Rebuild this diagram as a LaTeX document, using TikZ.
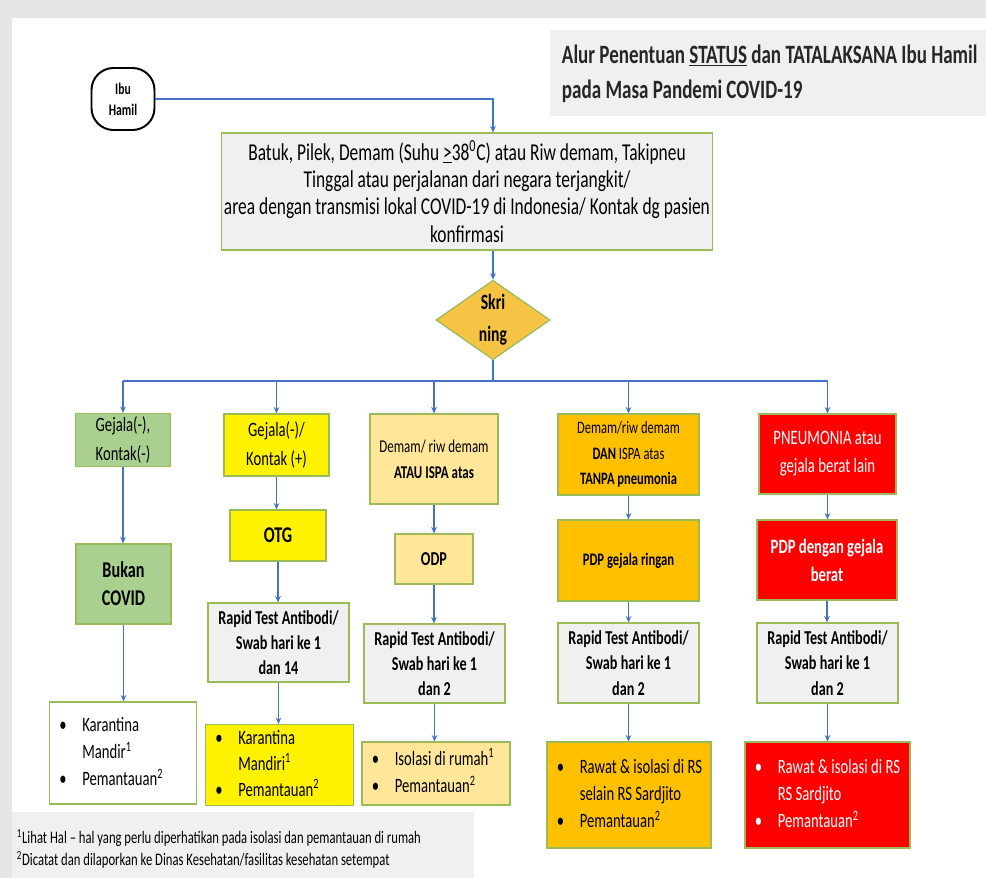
\documentclass[tikz,border=0pt]{standalone}
\usepackage{fontspec}
\setmainfont{Carlito}[FakeStretch=0.72]
\usepackage{xcolor}
\usepackage{tikz}
\usetikzlibrary{shapes.geometric,arrows.meta}

\definecolor{lineblue}{HTML}{4472C4}
\definecolor{boxgreen}{HTML}{9BBB59}
\definecolor{leafgreen}{HTML}{A9D08E}
\definecolor{panelgray}{HTML}{F0F0F0}
\definecolor{framegray}{HTML}{E6E6E6}
\definecolor{lightorange}{HTML}{FFE699}
\definecolor{darkorange}{HTML}{FFC000}
\definecolor{diamondgold}{HTML}{F6C445}

% bullet list, set flush left in a box of given width
\newcommand{\blist}[2]{\makebox[#1][l]{\begin{tabular}{@{}l@{\hspace{11pt}}l@{}}#2\end{tabular}}}

\begin{document}
\begin{tikzpicture}[x=0.025cm, y=-0.025cm,
    sz/.style 2 args={minimum width=#1*0.025cm, minimum height=#2*0.025cm},
    box/.style={draw=boxgreen, line width=0.9pt, inner sep=2pt, align=center, font=\fontsize{14}{20}\selectfont},
    graybox/.style={box, fill=panelgray, font=\bfseries\fontsize{14}{18}\selectfont},
    listbox/.style={box, inner xsep=0.25cm, font=\fontsize{14.5}{19.5}\selectfont},
    arr/.style={draw=lineblue, line width=0.8pt, -{Stealth[length=4.5pt,width=4pt]}}]
    % Page frame and the two gray panels
    \fill[framegray] (0,0) rectangle (986,878);
    \fill[white] (12,18) rectangle (986,878);
    \useasboundingbox (0,0) rectangle (986,878);
    \fill[panelgray] (550,30) rectangle (986,116);
    \fill[panelgray] (12,812) rectangle (474,878);

    % Title and footnotes
    \node[anchor=west, align=left, font=\bfseries\fontsize{18.8}{25}\selectfont, text=black!85] (title) at (557,74)
        {Alur Penentuan \underline{STATUS} dan TATALAKSANA Ibu Hamil\\pada Masa Pandemi COVID-19};
    \node[anchor=west, align=left, font=\fontsize{12.5}{16}\selectfont] (notes) at (12,849)
        {\textsuperscript{1}Lihat Hal -- hal yang perlu diperhatikan pada isolasi dan pemantauan di rumah\\
         \textsuperscript{2}Dicatat dan dilaporkan ke Dinas Kesehatan/fasilitas kesehatan setempat};

    % Start, criteria and screening
    \node[draw, line width=1.4pt, rounded corners=0.55cm, sz={63}{62}, align=center,
          font=\bfseries\fontsize{11.5}{15}\selectfont] (ibu) at (123,99) {Ibu\\Hamil};
    \node[box, fill=panelgray, sz={490}{117}, font=\fontsize{17.2}{19.4}\selectfont] (crit) at (467,191.5)
        {Batuk, Pilek, Demam (Suhu \underline{>}38\textsuperscript{0}C) atau Riw demam, Takipneu\\
         Tinggal atau perjalanan dari negara terjangkit/\\
         area dengan transmisi lokal COVID-19 di Indonesia/ Kontak dg pasien\\
         konfirmasi};
    \node[diamond, draw=boxgreen, line width=0.9pt, fill=diamondgold, sz={114}{76}, inner sep=0pt,
          align=center, font=\bfseries\fontsize{15.5}{23}\selectfont] (skr) at (493,320) {Skri\\ning};

    % Column 1
    \node[box, fill=leafgreen, sz={95}{53}, font=\fontsize{14.5}{20}\selectfont] (g1) at (123,440) {Gejala(-),\\Kontak(-)};
    \node[box, fill=leafgreen, sz={95}{80}, font=\bfseries\fontsize{16}{20}\selectfont] (b1) at (123.5,584) {Bukan\\COVID};
    \node[listbox, fill=white, sz={147}{102}] (k1) at (123,753)
        {\blist{3.175cm}{\textbullet & Karantina\\ & Mandir\textsuperscript{1}\\ \textbullet & Pemantauan\textsuperscript{2}}};

    % Column 2
    \node[box, fill=yellow, sz={105}{62}, font=\fontsize{14.5}{20}\selectfont] (g2) at (276.5,445) {Gejala(-)/\\Kontak (+)};
    \node[box, fill=yellow, sz={96}{51}, font=\bfseries\fontsize{16}{20}\selectfont] (otg) at (278,535.5) {OTG};
    \node[graybox, sz={141}{79}] (r2) at (278.5,642.5) {Rapid Test Antibodi/\\Swab hari ke 1\\dan 14};
    \node[listbox, fill=yellow, sz={147}{78}, inner ysep=1pt, font=\fontsize{14.5}{18.5}\selectfont] (k2) at (279.5,765)
        {\blist{3.2cm}{\textbullet & Karantina\\ & Mandiri\textsuperscript{1}\\ \textbullet & Pemantauan\textsuperscript{2}}};

    % Column 3
    \node[box, fill=lightorange, sz={128}{90}, font=\fontsize{12.8}{18.5}\selectfont] (d3) at (434,459)
        {Demam/ riw demam\\\textbf{ATAU ISPA atas}};
    \node[box, fill=lightorange, sz={78}{50}, font=\bfseries\fontsize{14}{18}\selectfont] (odp) at (434,559) {ODP};
    \node[graybox, sz={141}{79}] (r3) at (434.5,663.5) {Rapid Test Antibodi/\\Swab hari ke 1\\dan 2};
    \node[listbox, fill=lightorange, sz={148}{63}] (i3) at (436,773.5)
        {\blist{3.2cm}{\textbullet & Isolasi di rumah\textsuperscript{1}\\ \textbullet & Pemantauan\textsuperscript{2}}};

    % Column 4
    \node[box, fill=darkorange, sz={141}{81}, font=\fontsize{12.4}{18}\selectfont] (d4) at (628.5,454.5)
        {Demam/riw demam\\\textbf{DAN} ISPA atas\\\textbf{TANPA pneumonia}};
    \node[box, fill=darkorange, sz={141}{81}, font=\bfseries\fontsize{12.5}{17}\selectfont] (p4) at (628.5,560.5) {PDP gejala ringan};
    \node[graybox, sz={141}{80}] (r4) at (628.5,663) {Rapid Test Antibodi/\\Swab hari ke 1\\dan 2};
    \node[listbox, fill=darkorange, sz={164}{106}] (w4) at (629,795)
        {\blist{3.6cm}{\textbullet & Rawat \& isolasi di RS\\ & selain RS Sardjito\\ \textbullet & Pemantauan\textsuperscript{2}}};

    % Column 5
    \node[box, fill=red, text=white, sz={137}{80}, font=\fontsize{14.6}{20}\selectfont] (n5) at (827.5,454) {PNEUMONIA atau\\gejala berat lain};
    \node[box, fill=red, text=white, sz={140}{80}, font=\bfseries\fontsize{14.5}{20}\selectfont] (p5) at (827,560) {PDP dengan gejala\\berat};
    \node[graybox, sz={141}{80}] (r5) at (827.5,663) {Rapid Test Antibodi/\\Swab hari ke 1\\dan 2};
    \node[listbox, fill=red, text=white, sz={165}{106}] (w5) at (827.5,795)
        {\blist{3.625cm}{\textbullet & Rawat \& isolasi di RS\\ & RS Sardjito\\ \textbullet & Pemantauan\textsuperscript{2}}};

    % Connectors
    \coordinate (bus) at (493,381);
    \draw[arr] (ibu.east) -| (skr |- crit.north);
    \draw[arr] (skr |- crit.south) -- (skr.north);
    \draw[lineblue, line width=0.8pt] (skr.south) -- (bus);
    \draw[lineblue, line width=1pt] (g1.north |- bus) -- (n5.north |- bus);
    \foreach \n in {g1,g2,d3,d4,n5}
        \draw[arr] (\n.north |- bus) -- (\n.north);
    \foreach \a/\b in {g1/b1,b1/k1,g2/otg,otg/r2,r2/k2,d3/odp,odp/r3,r3/i3,d4/p4,p4/r4,r4/w4,n5/p5,p5/r5,r5/w5}
        \draw[arr] (\a.south) -- (\a.south |- \b.north);
\end{tikzpicture}
\end{document}
